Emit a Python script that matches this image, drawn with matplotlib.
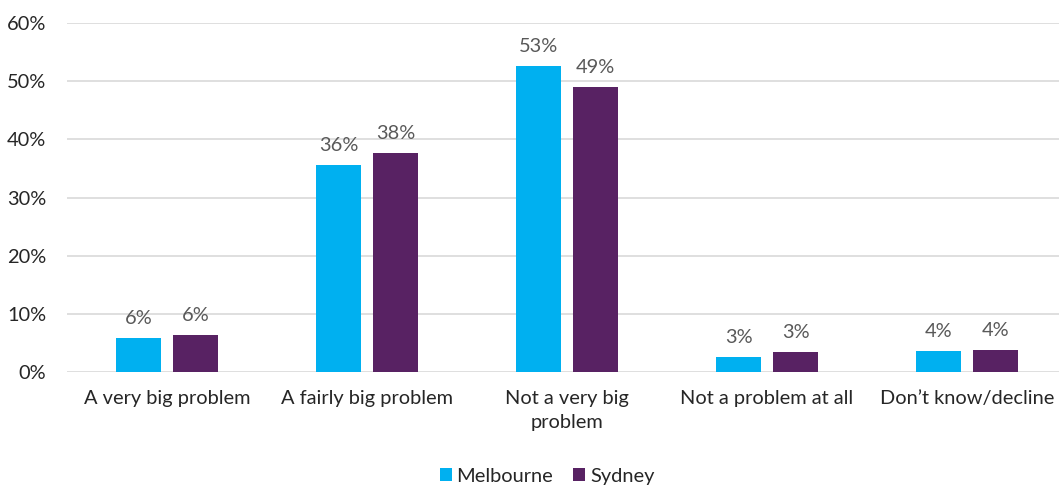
import numpy as np
import matplotlib.pyplot as plt

categories = ["A very big problem", "A fairly big problem", "Not a very big\nproblem",
              "Not a problem at all", "Don\u2019t know/decline"]
melbourne = [5.9, 35.6, 52.6, 2.6, 3.6]
sydney = [6.3, 37.6, 49.0, 3.4, 3.8]
melbourne_labels = ["6%", "36%", "53%", "3%", "4%"]
sydney_labels = ["6%", "38%", "49%", "3%", "4%"]
yticks = [0, 10, 20, 30, 40, 50, 60]

plt.rcParams['font.family'] = ['Lato', 'DejaVu Sans']
fs = 14.4

fig = plt.figure(figsize=(10.59, 4.86), dpi=100)
ax = fig.add_axes([67 / 1059, 114 / 486, 1 - 67 / 1059, 349 / 486])

x = np.arange(len(categories))
w = 0.225
off = 0.1425
b1 = ax.bar(x - off, melbourne, w, color='#00B0F0', label='Melbourne', zorder=3)
b2 = ax.bar(x + off, sydney, w, color='#582263', label='Sydney', zorder=3)

for bars, labs in [(b1, melbourne_labels), (b2, sydney_labels)]:
    for bar, lab in zip(bars, labs):
        ax.annotate(lab, (bar.get_x() + bar.get_width() / 2, bar.get_height()),
                    xytext=(0, 8), textcoords='offset points', ha='center', va='bottom',
                    fontsize=fs, color='#595959')

ax.set_xlim(-0.5, 4.46)
ax.set_ylim(0, 60)
ax.set_yticks(yticks)
ax.set_yticklabels([f"{t}%" for t in yticks], fontsize=fs, color='#262626')
ax.set_xticks(x)
ax.set_xticklabels(categories, fontsize=fs, color='#262626', linespacing=1.5)
ax.tick_params(axis='both', length=0)
ax.tick_params(axis='y', pad=15)
ax.tick_params(axis='x', pad=13)
ax.grid(axis='y', color='#D9D9D9', linewidth=1.2, zorder=0)
for s in ax.spines.values():
    s.set_visible(False)

ax.legend(loc='lower center', bbox_to_anchor=(0.484, -0.375), ncol=2, frameon=False,
          fontsize=fs, handlelength=0.6, handleheight=0.6, handletextpad=0.25,
          columnspacing=1.0, labelcolor='#262626')

fig.savefig('out.png', dpi=100)
